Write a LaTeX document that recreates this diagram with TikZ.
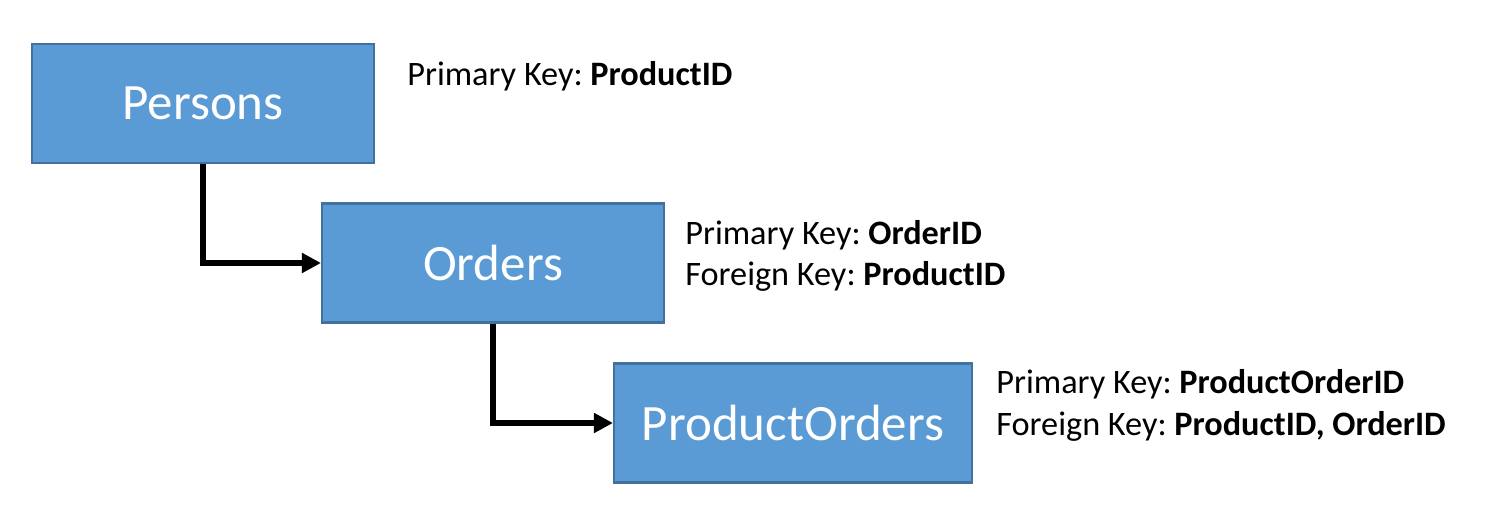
\documentclass[tikz,border=0pt]{standalone}
\usepackage{fontspec}
\setmainfont{Carlito}
\usepackage{tikz}
\usetikzlibrary{positioning,arrows.meta}
\frenchspacing
\definecolor{TblFill}{RGB}{91,155,213}
\definecolor{TblLine}{RGB}{65,113,156}
\tikzset{
  table/.style={rectangle, draw=TblLine, line width=1.2pt, fill=TblFill,
    text=white, minimum width=6.84cm, minimum height=2.38cm,
    font=\fontsize{29}{35}\selectfont},
  keys/.style={anchor=west, inner sep=0pt, align=left,
    font=\fontsize{19.5}{23.5}\selectfont},
  link/.style={-{Triangle[length=0.38cm,width=0.38cm]}, line width=0.11cm}
}

\begin{document}
\begin{tikzpicture}[x=0.02cm, y=-0.02cm]
  \useasboundingbox (0,0) rectangle (1488,520);

  % tables
  \node[table] (persons) at (203,103.5) {Persons};
  \node[table] (orders) at (493,263) {Orders};
  \node[table, minimum width=7.16cm] (prodorders) at (793,423) {ProductOrders};

  % key notes
  \node[keys] (pk1) at (407,76) {Primary Key: \textbf{ProductID}};
  \node[keys] (pk2) at (685,256) {Primary Key: \textbf{OrderID}\\Foreign Key: \textbf{ProductID}};
  \node[keys] (pk3) at (996,405.5) {Primary Key: \textbf{ProductOrderID}\\Foreign Key: \textbf{ProductID, OrderID}};

  % relations
  \draw[link] (persons.south) |- (orders.west);
  \draw[link] (orders.south) |- (prodorders.west);
\end{tikzpicture}
\end{document}
